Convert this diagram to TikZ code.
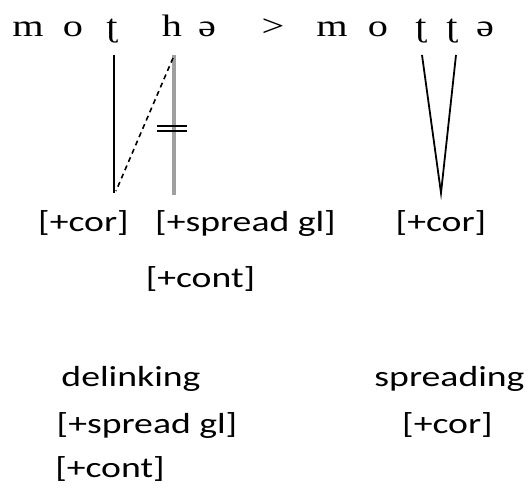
\documentclass[tikz,border=0pt]{standalone}
\usepackage{fontspec}
\setmainfont{Liberation Serif}
\newfontfamily\labfont{Carlito}
\newcommand{\segwide}[1]{\scalebox{1.3}[1]{#1}}
\newcommand{\labwide}[1]{\scalebox{1.3}[1]{#1}}
\begin{document}
\begin{tikzpicture}[x=1pt,y=-1pt,
  seg/.style={anchor=base,inner sep=0pt,font=\fontsize{31}{31}\selectfont},
  lab/.style={anchor=base,inner sep=0pt,font=\labfont\fontsize{29}{29}\selectfont},
  assoc/.style={line width=1.8pt,black},
  gline/.style={line width=3.4pt,gray!75},
  dline/.style={line width=1.6pt,black,dash pattern=on 5pt off 4pt}]
\useasboundingbox (0,0) rectangle (528,489);
% top line
\node[seg] (m1) at (28,37) {\segwide{m}};
\node[seg] (o1) at (73,37) {\segwide{o}};
\node[seg] (t1) at (112,37) {\segwide{ʈ}};
\node[seg] (h1) at (172,37) {\segwide{h}};
\node[seg] (e1) at (207,37) {\segwide{ə}};
\node[seg] (gt) at (273,37) {\segwide{>}};
\node[seg] (m2) at (332,37) {\segwide{m}};
\node[seg] (o2) at (378,37) {\segwide{o}};
\node[seg] (t2) at (421,37) {\segwide{ʈ}};
\node[seg] (t3) at (452,37) {\segwide{ʈ}};
\node[seg] (e2) at (485,37) {\segwide{ə}};
% labels
\node[lab] (cor1) at (83.5,232) {\labwide{[+cor]}};
\node[lab] (sg1) at (245.5,232) {\labwide{[+spread gl]}};
\node[lab] (cont1) at (200.5,288) {\labwide{[+cont]}};
\node[lab] (cor2) at (441,232) {\labwide{[+cor]}};
\node[lab] (delink) at (131,386) {\labwide{delinking}};
\node[lab] (spread) at (449.5,386) {\labwide{spreading}};
\node[lab] (sg2) at (147,433) {\labwide{[+spread gl]}};
\node[lab] (cor3) at (447.5,433) {\labwide{[+cor]}};
\node[lab] (cont2) at (110,477) {\labwide{[+cont]}};
% association lines
\coordinate (a1) at (114,55);
\coordinate (a2) at (114,193);
\coordinate (b1) at (174,55);
\coordinate (b2) at (174,195);
\coordinate (c1) at (173,58);
\coordinate (c2) at (116,191);
\coordinate (v1) at (422,55);
\coordinate (v2) at (456,55);
\coordinate (v0) at (441,193);
\draw[gline] (b1) -- (b2);
\draw[assoc] (a1) -- (a2);
\draw[dline] (c1) -- (c2);
\draw[line width=1.6pt] (157,126) -- (187,126) (157,131) -- (187,131);
\draw[assoc,line join=miter] (v1) -- (v0) -- (v2);
\end{tikzpicture}
\end{document}
